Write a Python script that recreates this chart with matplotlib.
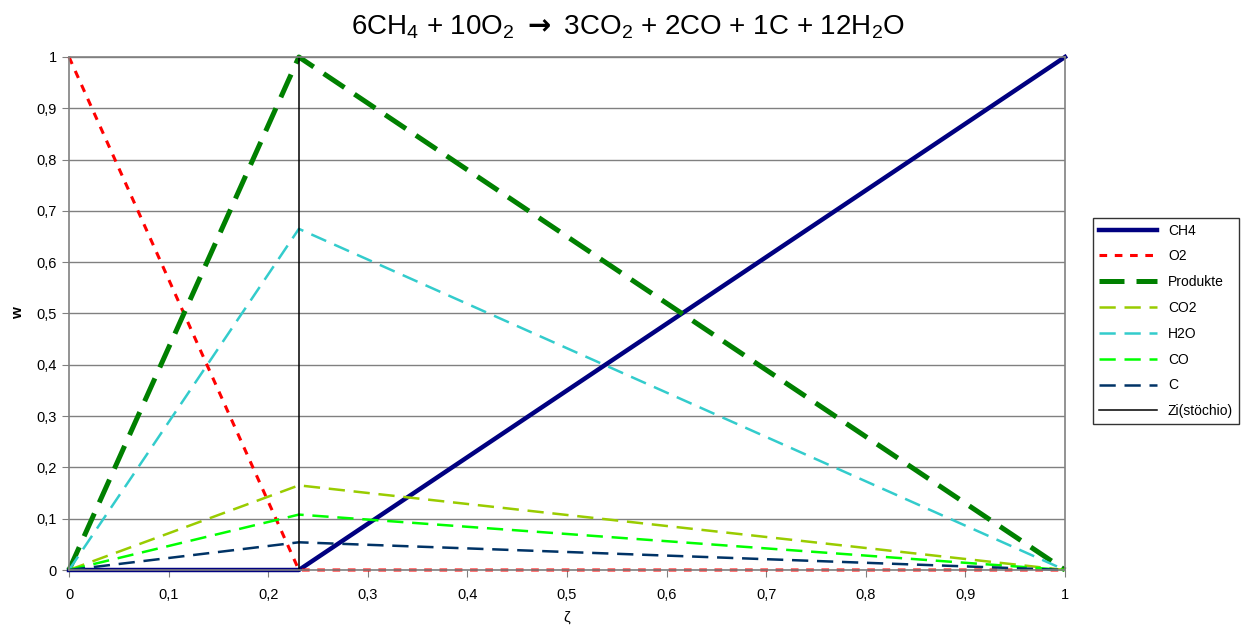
import matplotlib.pyplot as plt
from matplotlib.ticker import FuncFormatter, MultipleLocator

plt.rcParams['font.family'] = ['Liberation Sans', 'DejaVu Sans']
plt.rcParams['mathtext.fontset'] = 'custom'
plt.rcParams['mathtext.rm'] = 'Liberation Sans'
plt.rcParams['mathtext.default'] = 'regular'

# data: mixture fraction zeta, stoichiometric point at 96/416
zeta = [0.0, 0.2308, 1.0]
w_ch4 = [0.0, 0.0, 1.0]
w_o2 = [1.0, 0.0, 0.0]
w_prod = [0.0, 1.0, 0.0]
w_co2 = [0.0, 0.165, 0.0]
w_h2o = [0.0, 0.665, 0.0]
w_co = [0.0, 0.108, 0.0]
w_c = [0.0, 0.054, 0.0]
zi_x = [0.2308, 0.2308]
zi_y = [0.0, 1.0]

fig = plt.figure(figsize=(12.41, 6.3), dpi=100)
ax = fig.add_axes([69 / 1241, 60 / 630, 996 / 1241, 513 / 630])

ax.plot(zeta, w_ch4, color='#000080', lw=3.2, label='CH4', clip_on=False)
ax.plot(zeta, w_o2, color='#ff0000', lw=2.2, dashes=(2.5, 2.5), label='O2', clip_on=False)
ax.plot(zeta, w_prod, color='#008000', lw=3.6, dashes=(5, 2.4), label='Produkte', clip_on=False)
ax.plot(zeta, w_co2, color='#99cc00', lw=1.8, dashes=(6.5, 3.5), label='CO2', clip_on=False)
ax.plot(zeta, w_h2o, color='#33cccc', lw=1.8, dashes=(6.5, 3.5), label='H2O', clip_on=False)
ax.plot(zeta, w_co, color='#00ff00', lw=1.8, dashes=(6.5, 3.5), label='CO', clip_on=False)
ax.plot(zeta, w_c, color='#003366', lw=1.8, dashes=(6.5, 3.5), label='C', clip_on=False)
ax.plot(zi_x, zi_y, color='black', lw=1.1, label='Zi(stöchio)', clip_on=False)

ax.set_xlim(0, 1)
ax.set_ylim(0, 1)
ax.xaxis.set_major_locator(MultipleLocator(0.1))
ax.yaxis.set_major_locator(MultipleLocator(0.1))
comma = FuncFormatter(lambda v, p: ('%.1f' % v).rstrip('0').rstrip('.').replace('.', ',') if v != 0 else '0')
ax.xaxis.set_major_formatter(comma)
ax.yaxis.set_major_formatter(comma)
ax.tick_params(direction='out', length=5, color='#808080', labelsize=10.5)
ax.tick_params(axis='x', pad=8)
ax.tick_params(axis='y', pad=4)

ax.grid(axis='y', color='#808080', lw=1)
ax.set_axisbelow(True)
for s in ax.spines.values():
    s.set_color('#808080')
    s.set_linewidth(1.2)

ax.set_xlabel('ζ', fontsize=11, labelpad=6)
ax.set_ylabel('w', fontsize=11, fontweight='bold', labelpad=8)
fig.text(628 / 1241, 1 - 27 / 630,
         '6CH$_4$ + 10O$_2$ ${\\mathbf{\\rightarrow}}$ 3CO$_2$ + 2CO + 1C + 12H$_2$O',
         fontsize=20, ha='center', va='center')

leg = fig.legend(loc='upper left', bbox_to_anchor=(1093 / 1241, 1 - 218 / 630),
                 fontsize=10, frameon=True, fancybox=False, edgecolor='black',
                 handlelength=4.2, labelspacing=0.85, borderaxespad=0)
leg.get_frame().set_linewidth(1)

plt.savefig('out.png', dpi=100)
